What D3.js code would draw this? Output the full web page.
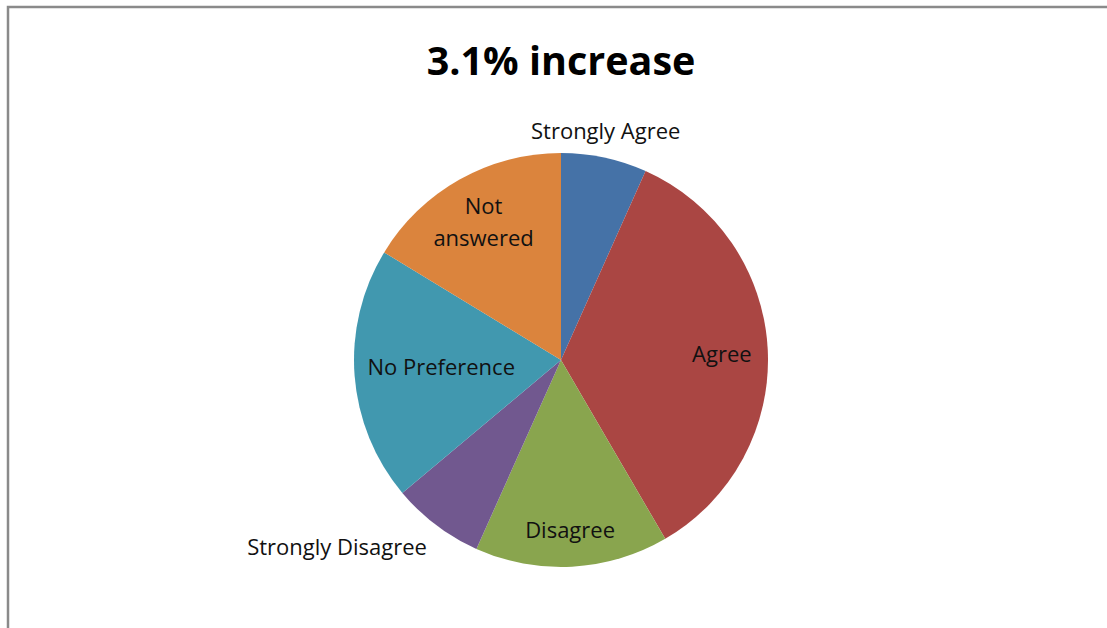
<!DOCTYPE html>
<meta charset="utf-8">
<script src="https://d3js.org/d3.v7.min.js"></script>
<style>
  body { margin: 0; background: #fff; }
  text { font-family: "Open Sans", "Noto Sans", sans-serif; }
</style>
<div id="chart"></div>
<script>
    // answers and their shares
    var categories = ["Strongly Agree", "Agree", "Disagree", "Strongly Disagree", "No Preference", "Not answered"];
    var values = [6.7, 34.9, 15.1, 7.2, 19.8, 16.3];
    var colors = ["#4572A7", "#AA4643", "#89A54E", "#71588F", "#4198AF", "#DB843D"];

    var width = 1107, height = 628;
    var cx = 561, cy = 360, radius = 207;

    var svg = d3.select("#chart").append("svg")
        .attr("width", width)
        .attr("height", height);

    // frame (top and left edges show)
    svg.append("path")
        .attr("d", "M8," + height + "V7H" + width)
        .attr("fill", "none")
        .attr("stroke", "#8a8a8a")
        .attr("stroke-width", 2.5);

    svg.append("text")
        .attr("x", cx)
        .attr("y", 75)
        .attr("text-anchor", "middle")
        .style("font-weight", "bold")
        .style("font-size", "39.5px")
        .text("3.1% increase");

    var pie = d3.pie().sort(null).value(function(d) { return d; });
    var arc = d3.arc().innerRadius(0).outerRadius(radius);
    var arcs = pie(values);

    var g = svg.append("g").attr("transform", "translate(" + cx + "," + cy + ")");

    g.selectAll("path")
        .data(arcs)
        .enter()
        .append("path")
            .attr("d", arc)
            .attr("fill", function(d, i) { return colors[i]; });

    // label placement: radius from centre, angle shift (deg)
    var labelPos = [[233, -1], [161, 1], [170, 0], [292, 13], [120, 1], [158, 0]];

    g.selectAll(".lbl")
        .data(arcs)
        .enter()
        .append("text")
            .attr("class", "lbl")
            .attr("text-anchor", "middle")
            .style("font-size", "22px")
            .style("fill", "#111")
            .each(function(d, i) {
                var a = (d.startAngle + d.endAngle) / 2 + labelPos[i][1] * Math.PI / 180;
                var r = labelPos[i][0];
                var x = r * Math.sin(a), y = -r * Math.cos(a);
                var words = categories[i] === "Not answered" ? ["Not", "answered"] : [categories[i]];
                var t = d3.select(this);
                words.forEach(function(w, k) {
                    t.append("tspan")
                        .attr("x", x)
                        .attr("y", y + 8 + (k - (words.length - 1) / 2) * 32)
                        .text(w);
                });
            });
</script>
